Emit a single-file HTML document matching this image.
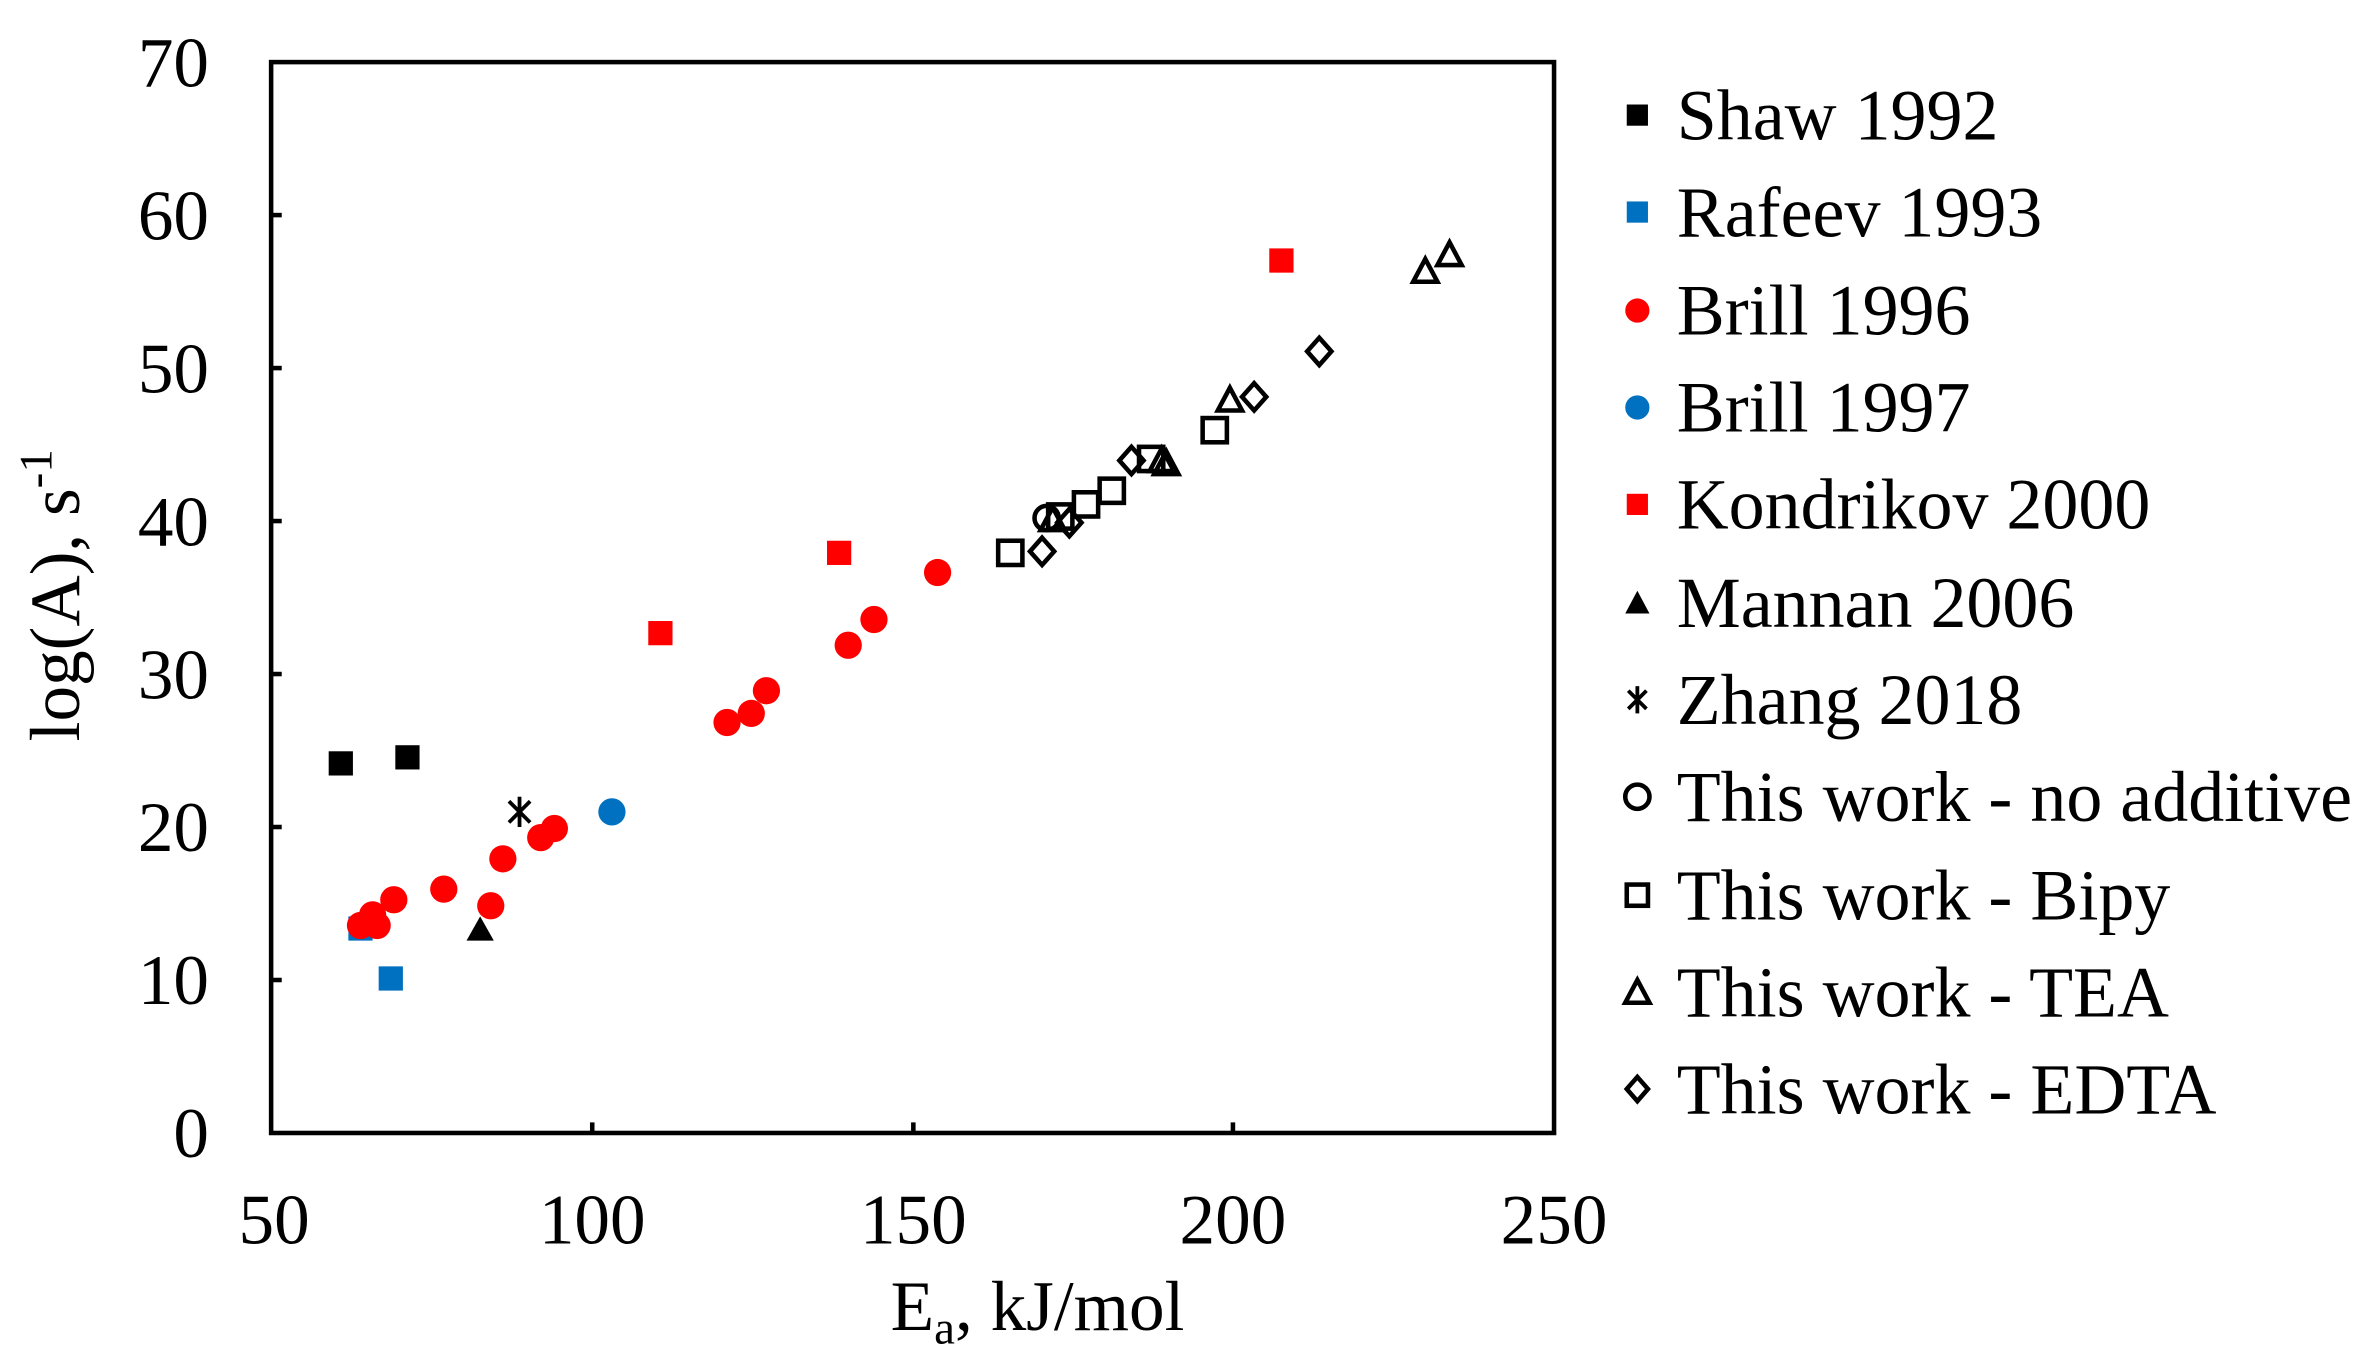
<!DOCTYPE html>
<html><head><meta charset="utf-8"><style>
html,body{margin:0;padding:0;background:#fff;}
svg{display:block;}
text{font-family:"Liberation Serif",serif;fill:#000;}
</style></head><body>
<svg width="2375" height="1367" viewBox="0 0 1568 902.5" preserveAspectRatio="none" xmlns="http://www.w3.org/2000/svg">
<rect width="1568" height="903" fill="#fff"/>
<rect x="179" y="41" width="847" height="707" fill="none" stroke="#000" stroke-width="3"/>
<g stroke="#000" stroke-width="3">
<line x1="179" y1="647" x2="186" y2="647"/><line x1="179" y1="546" x2="186" y2="546"/>
<line x1="179" y1="445" x2="186" y2="445"/><line x1="179" y1="344" x2="186" y2="344"/>
<line x1="179" y1="243" x2="186" y2="243"/><line x1="179" y1="142" x2="186" y2="142"/>
<line x1="391" y1="748" x2="391" y2="741"/><line x1="603" y1="748" x2="603" y2="741"/>
<line x1="814" y1="748" x2="814" y2="741"/>
</g>
<g font-size="47" text-anchor="end">
<text x="138" y="764">0</text><text x="138" y="663">10</text><text x="138" y="562">20</text>
<text x="138" y="461">30</text><text x="138" y="360">40</text><text x="138" y="259">50</text>
<text x="138" y="158">60</text><text x="138" y="57">70</text>
</g>
<g font-size="47" text-anchor="middle">
<text x="181" y="821">50</text><text x="391" y="821">100</text><text x="603" y="821">150</text>
<text x="814" y="821">200</text><text x="1026" y="821">250</text>
<text x="685" y="878">E<tspan font-size="31" dy="9">a</tspan><tspan dy="-9">, kJ/mol</tspan></text>
</g>
<text font-size="47" text-anchor="middle" transform="translate(52,393) rotate(-90)">log(A), s<tspan font-size="31" dy="-18">-1</tspan></text>
<!-- data -->
<g fill="#000"><rect x="217" y="496" width="16" height="16"/><rect x="261" y="492" width="16" height="16"/></g>
<g fill="#0070c0"><rect x="230" y="605" width="16" height="16"/><rect x="250" y="638" width="16" height="16"/><circle cx="404" cy="536" r="9"/></g>
<g fill="#ff0000">
<circle cx="238" cy="611" r="9"/><circle cx="246" cy="604" r="9"/><circle cx="249" cy="611" r="9"/><circle cx="260" cy="594" r="9"/>
<circle cx="293" cy="587" r="9"/><circle cx="324" cy="598" r="9"/><circle cx="332" cy="567" r="9"/><circle cx="357" cy="553" r="9"/>
<circle cx="366" cy="547" r="9"/><circle cx="480" cy="477" r="9"/><circle cx="496" cy="471" r="9"/><circle cx="506" cy="456" r="9"/>
<circle cx="560" cy="426" r="9"/><circle cx="577" cy="409" r="9"/><circle cx="619" cy="378" r="9"/>
<rect x="428" y="410" width="16" height="16"/><rect x="546" y="357" width="16" height="16"/><rect x="838" y="164" width="16" height="16"/>
</g>
<polygon points="317,605 326,621 308,621" fill="#000"/>
<g stroke="#000" stroke-width="2.5"><line x1="336" y1="529" x2="350" y2="543"/><line x1="350" y1="529" x2="336" y2="543"/><line x1="343" y1="526" x2="343" y2="546"/></g>
<g fill="none" stroke="#000" stroke-width="3">
<circle cx="691" cy="342" r="8"/>
<rect x="659" y="357" width="16" height="16"/><rect x="692" y="333" width="16" height="16"/><rect x="709" y="325" width="16" height="16"/>
<rect x="726" y="316" width="16" height="16"/><rect x="752" y="295" width="16" height="16"/><rect x="794" y="276" width="16" height="16"/>
<polygon points="695,335 703,350 687,350"/><polygon points="767,296 775,311 759,311"/><polygon points="770,298 778,313 762,313"/>
<polygon points="812,256 820,271 804,271"/><polygon points="941,171 949,186 933,186"/><polygon points="957,160 965,175 949,175"/>
<polygon points="688,355 696,364 688,373 680,364"/><polygon points="706,336 714,345 706,354 698,345"/><polygon points="747,295 755,304 747,313 739,304"/>
<polygon points="828,253 836,262 828,271 820,262"/><polygon points="871,223 879,232 871,241 863,232"/>
</g>
<!-- legend -->
<rect x="1074" y="69" width="14" height="14" fill="#000"/>
<rect x="1074" y="133" width="14" height="14" fill="#0070c0"/>
<circle cx="1081" cy="205" r="8" fill="#ff0000"/>
<circle cx="1081" cy="269" r="8" fill="#0070c0"/>
<rect x="1074" y="326" width="14" height="14" fill="#ff0000"/>
<polygon points="1081,390 1089,405 1073,405" fill="#000"/>
<g stroke="#000" stroke-width="2.5"><line x1="1075" y1="456" x2="1087" y2="468"/><line x1="1087" y1="456" x2="1075" y2="468"/><line x1="1081" y1="453" x2="1081" y2="471"/></g>
<g fill="none" stroke="#000" stroke-width="3">
<circle cx="1081" cy="526" r="8"/><rect x="1074" y="584" width="14" height="14"/>
<polygon points="1081,647 1089,662 1073,662"/><polygon points="1081,711 1088,719 1081,727 1074,719"/>
</g>
<g font-size="47.5">
<text x="1107" y="92">Shaw 1992</text><text x="1107" y="156">Rafeev 1993</text><text x="1107" y="221">Brill 1996</text>
<text x="1107" y="285">Brill 1997</text><text x="1107" y="349">Kondrikov 2000</text><text x="1107" y="414">Mannan 2006</text>
<text x="1107" y="478">Zhang 2018</text><text x="1107" y="542">This work - no additive</text><text x="1107" y="607">This work - Bipy</text>
<text x="1107" y="671">This work - TEA</text><text x="1107" y="735">This work - EDTA</text>
</g>
</svg>
</body></html>
